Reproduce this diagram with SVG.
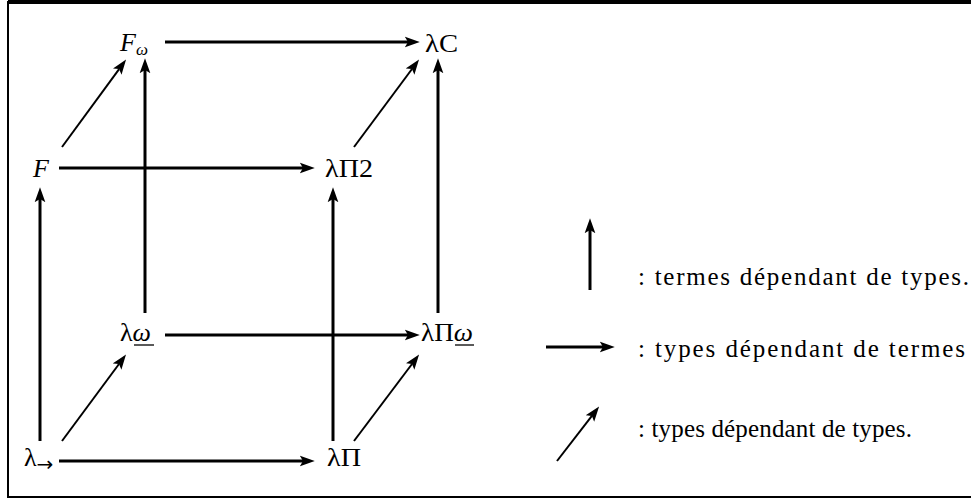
<svg xmlns="http://www.w3.org/2000/svg" width="971" height="500" viewBox="0 0 971 500">
<defs>
<marker id="ah" markerUnits="userSpaceOnUse" markerWidth="15" markerHeight="12" refX="3" refY="5" orient="auto" viewBox="0 0 14 10">
<path d="M0,0 L14,5 L0,10 L3,5 z" fill="#000"/>
</marker>
<style>
.lbl{font-family:"Liberation Serif","Times New Roman",serif;font-size:26px;fill:#000}
.it{font-style:italic}
.sub{font-size:17px}
.arr{font-family:"DejaVu Sans",sans-serif;font-size:20px}
.leg{font-family:"Liberation Serif","Times New Roman",serif;font-size:25px;fill:#000}
.thick{stroke:#000;stroke-width:3;fill:none;marker-end:url(#ah)}
.thin{stroke:#000;stroke-width:2;fill:none;marker-end:url(#ah)}
.ul{stroke:#000;stroke-width:1.3}
</style>
</defs>
<rect width="971" height="500" fill="#fff"/>
<g id="frame">
<line x1="8" y1="2" x2="971" y2="2" stroke="#000" stroke-width="4"/>
<line x1="8" y1="1" x2="8" y2="497" stroke="#000" stroke-width="2"/>
<line x1="7" y1="497" x2="971" y2="497" stroke="#000" stroke-width="2"/>
</g>
<g id="connectors">
<line class="thick" x1="165" y1="42" x2="408" y2="42"/>
<line class="thick" x1="59" y1="168" x2="303" y2="168"/>
<line class="thick" x1="165" y1="335" x2="408" y2="335"/>
<line class="thick" x1="59" y1="461" x2="303" y2="461"/>
<line class="thick" x1="40" y1="441" x2="40" y2="199"/>
<line class="thick" x1="333" y1="441" x2="333" y2="199"/>
<line class="thick" x1="145" y1="313" x2="145" y2="70"/>
<line class="thick" x1="438" y1="313" x2="438" y2="70"/>
<line class="thin" x1="62" y1="441" x2="119" y2="364"/>
<line class="thin" x1="354" y1="441" x2="412" y2="364"/>
<line class="thin" x1="62" y1="147" x2="119.1" y2="69.1"/>
<line class="thin" x1="354" y1="147" x2="412" y2="69"/>
</g>
<g id="node-Fomega"><text class="lbl" x="120" y="51"><tspan class="it">F</tspan><tspan class="sub it" dy="4">ω</tspan></text></g>
<g id="node-lambdaC"><text class="lbl" x="425" y="52" textLength="33" lengthAdjust="spacingAndGlyphs">λC</text></g>
<g id="node-F"><text class="lbl it" x="33" y="177">F</text></g>
<g id="node-lambdaPi2"><text class="lbl" x="325" y="177" textLength="48" lengthAdjust="spacingAndGlyphs">λΠ2</text></g>
<g id="node-lambdaomega"><text class="lbl" x="120" y="341">λ<tspan class="it">ω</tspan></text><line class="ul" x1="134" y1="345" x2="154" y2="345"/></g>
<g id="node-lambdaPiomega"><text class="lbl" x="421" y="341" textLength="52" lengthAdjust="spacingAndGlyphs">λΠ<tspan class="it">ω</tspan></text><line class="ul" x1="455" y1="345" x2="474" y2="345"/></g>
<g id="node-lambdaArrow"><text class="lbl" x="24" y="466">λ<tspan class="arr" dy="5">→</tspan></text></g>
<g id="node-lambdaPi"><text class="lbl" x="327" y="466" textLength="34" lengthAdjust="spacingAndGlyphs">λΠ</text></g>
<g id="legend">
<line class="thick" x1="590" y1="290" x2="590" y2="230"/>
<line class="thick" x1="546" y1="347" x2="603" y2="347"/>
<line class="thin" x1="557" y1="461" x2="591.9" y2="415.9"/>
<text class="leg" x="638" y="285" textLength="331" lengthAdjust="spacing">: termes dépendant de types.</text>
<text class="leg" x="638" y="357" textLength="327" lengthAdjust="spacing">: types dépendant de termes</text>
<text class="leg" x="638" y="437" textLength="274" lengthAdjust="spacing">: types dépendant de types.</text>
</g>
</svg>
